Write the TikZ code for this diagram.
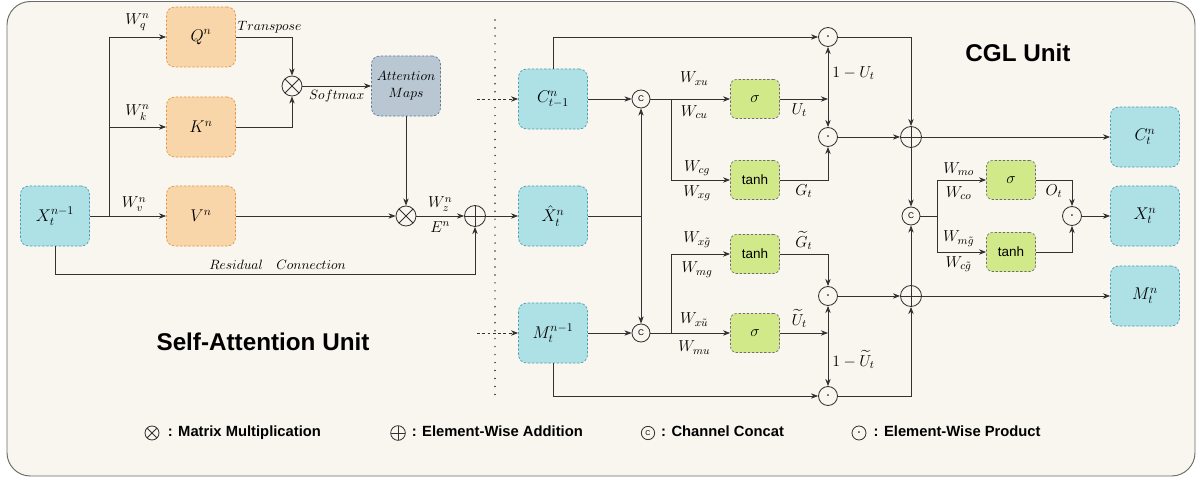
\RequirePackage{fix-cm}
\documentclass[tikz,border=0pt]{standalone}
\usepackage{fontspec}
\newfontfamily\lsans{Liberation Sans}
\usepackage{amsmath}
\usepackage{tikz}
\usepackage{xcolor}
\usetikzlibrary{positioning}
\usetikzlibrary{arrows.meta}

\definecolor{bgcream}{RGB}{248,246,239}
\definecolor{framegray}{RGB}{105,105,105}
\definecolor{linegray}{RGB}{50,50,50}
\definecolor{featfill}{RGB}{174,225,230}
\definecolor{featline}{RGB}{72,160,176}
\definecolor{qkvfill}{RGB}{249,214,170}
\definecolor{qkvline}{RGB}{228,150,62}
\definecolor{attfill}{RGB}{185,199,211}
\definecolor{attline}{RGB}{98,124,150}
\definecolor{gatefill}{RGB}{210,233,137}
\definecolor{gateline}{RGB}{110,110,110}

\begin{document}
\begin{tikzpicture}[
    x=0.03cm, y=-0.03cm,
    font=\fontsize{13.5}{16}\selectfont,
    base/.style={rectangle, rounded corners=7pt, dash pattern=on 2pt off 1.5pt, line width=0.6pt, align=center},
    feat/.style={base, draw=featline, fill=featfill, minimum width=2.07cm, minimum height=1.8cm, font=\fontsize{14.5}{17}\selectfont},
    qkv/.style={base, draw=qkvline, fill=qkvfill, minimum width=2.07cm, minimum height=1.8cm, font=\fontsize{14.5}{17}\selectfont},
    attn/.style={base, draw=attline, fill=attfill, minimum width=2.07cm, minimum height=1.8cm, font=\fontsize{11.5}{14.5}\selectfont},
    gate/.style={base, rounded corners=5pt, draw=gateline, fill=gatefill, minimum width=1.47cm, minimum height=1.17cm},
    op/.style={circle, draw=linegray, line width=0.7pt, inner sep=0pt, fill=bgcream},
    mul/.style={op, minimum size=0.6cm, path picture={\draw[linegray, line width=0.7pt] (path picture bounding box.north west) -- (path picture bounding box.south east) (path picture bounding box.north east) -- (path picture bounding box.south west);}},
    add/.style={op, minimum size=0.63cm, path picture={\draw[linegray, line width=0.7pt] (path picture bounding box.north) -- (path picture bounding box.south) (path picture bounding box.west) -- (path picture bounding box.east);}},
    cat/.style={op, minimum size=0.54cm, font=\lsans\fontsize{7}{7}\selectfont},
    dotp/.style={op, minimum size=0.57cm},
    arr/.style={-Stealth, line width=0.7pt, draw=linegray},
    darr/.style={arr, dash pattern=on 2.5pt off 2pt},
    sep/.style={line width=1.4pt, dash pattern=on 0pt off 6.8pt, line cap=round, draw=linegray},
    lbl/.style={font=\fontsize{11.5}{13}\selectfont},
    tanhtxt/.style={font=\lsans\fontsize{11.5}{13}\selectfont},
    title/.style={font=\lsans\bfseries\fontsize{20.7}{24}\selectfont},
    legend/.style={font=\lsans\bfseries\fontsize{12.6}{14}\selectfont, inner sep=1pt, text height=0.72em, text depth=0.2em}
]

\useasboundingbox (0,0) rectangle (1197,481);
\draw[framegray, fill=bgcream, line width=0.8pt, rounded corners=0.7cm] (7,1.5) rectangle (1195,476);

\node[feat] (xin) at (55,216) {$X_t^{n-1}$};
\node[qkv] (q) at (201,37) {$Q^n$};
\node[qkv] (k) at (201,127) {$K^n$};
\node[qkv] (v) at (201,216) {$V^n$};
\node[mul] (m1) at (292,86) {};
\node[attn] (att) at (406,86) {$Attention$\\$Maps$};
\node[mul] (m2) at (406,216) {};
\node[add] (a1) at (475,216) {};
\coordinate (split) at (109,216);
\coordinate (res) at (475,274);

\draw[arr] (xin.east) -- node[pos=0.58, above=0pt] {$W_v^n$} (v.west);
\draw[arr] (split) |- node[pos=0.75, above=2pt] {$W_q^n$} (q.west);
\draw[arr] (split) |- node[pos=0.75, above=2pt] {$W_k^n$} (k.west);
\draw[arr] (q.east) -| node[pos=0.3, above, lbl] {$Transpose$} (m1.north);
\draw[arr] (k.east) -| (m1.south);
\draw[arr] (m1) -- node[below, lbl] {$Softmax$} (att);
\draw[arr] (att) -- (m2);
\draw[arr] (v) -- (m2);
\draw[arr] (m2) -- node[above=0pt] {$W_z^n$} node[below=1pt] {$E^n$} (a1);
\draw[arr] (xin.south) |- node[pos=0.765, above, lbl] {$Residual\quad Connection$} (res) -- (a1.south);

\node[title] (satitle) at (263,342) {Self-Attention Unit};
\node[title] (cgltitle) at (1018,53) {CGL Unit};

\coordinate (septop) at (495,20);
\coordinate (sepbot) at (495,397);
\draw[sep] (septop) -- (sepbot);

\node[feat] (cprev) at (553,99) {$C_{t-1}^n$};
\node[feat] (xhat) at (553,216) {$\hat{X}_t^n$};
\node[feat] (mprev) at (553,333) {$M_t^{n-1}$};
\coordinate (cin) at (477,99);
\coordinate (min) at (477,333);
\draw[darr] (cin) -- (cprev);
\draw[darr] (min) -- (mprev);
\draw[arr] (a1) -- (xhat);

\node[cat] (c1) at (641,99) {C};
\node[cat] (c2) at (641,333) {C};
\draw[arr] (cprev) -- (c1);
\draw[arr] (mprev) -- (c2);
\draw[arr] (xhat.east) -| (c1.south);
\draw[arr] (xhat.east) -| (c2.north);

\node[gate] (sg1) at (755,99) {$\sigma$};
\node[gate, tanhtxt] (tg1) at (755,180) {tanh};
\node[gate, tanhtxt] (tg2) at (755,254) {tanh};
\node[gate] (sg2) at (755,333) {$\sigma$};
\coordinate (b1) at (671,99);
\coordinate (b2) at (671,333);
\draw[arr] (c1) -- node[pos=0.55, above=8pt] {$W_{xu}$} node[pos=0.55, below=2pt] {$W_{cu}$} (sg1);
\draw[arr] (b1) |- node[pos=0.72, above=0pt] {$W_{cg}$} node[pos=0.72, below=1pt] {$W_{xg}$} (tg1);
\draw[arr] (c2) -- node[pos=0.55, above=2pt] {$W_{x\tilde{u}}$} node[pos=0.55, below=3pt] {$W_{mu}$} (sg2);
\draw[arr] (b2) |- node[pos=0.72, above=2pt] {$W_{x\tilde{g}}$} node[pos=0.72, below=3pt] {$W_{mg}$} (tg2);

\node[dotp] (d1) at (828,37) {$\cdot$};
\node[dotp] (d2) at (828,137) {$\cdot$};
\node[dotp] (d4) at (828,296) {$\cdot$};
\node[dotp] (d5) at (828,396) {$\cdot$};
\coordinate (u1) at (828,99);
\coordinate (u2) at (828,333);
\draw[arr] (cprev.north) |- (d1.west);
\draw[arr] (sg1.east) -- node[pos=0.4, below] {$U_t$} (u1);
\draw[arr] (u1) -- node[right] {$1-U_t$} (d1.south);
\draw[arr] (u1) -- (d2.north);
\draw[arr] (tg1.east) -| node[pos=0.25, below] {$G_t$} (d2.south);
\draw[arr] (sg2.east) -- node[pos=0.4, above=1pt] {$\widetilde{U}_t$} (u2);
\draw[arr] (u2) -- (d4.south);
\draw[arr] (u2) -- node[right] {$1-\widetilde{U}_t$} (d5.north);
\draw[arr] (tg2.east) -| node[pos=0.25, above] {$\widetilde{G}_t$} (d4.north);
\draw[arr] (mprev.south) |- (d5.west);

\node[add] (a2) at (911,137) {};
\node[add] (a3) at (911,296) {};
\node[cat] (c3) at (911,216) {C};
\draw[arr] (d2) -- (a2);
\draw[arr] (d1.east) -| (a2.north);
\draw[arr] (d4) -- (a3);
\draw[arr] (d5.east) -| (a3.south);
\draw[arr] (a2) -- (c3);
\draw[arr] (a3) -- (c3);

\node[feat] (cout) at (1145,137) {$C_t^n$};
\node[feat] (xout) at (1145,216) {$X_t^n$};
\node[feat] (mout) at (1145,296) {$M_t^n$};
\draw[arr] (a2) -- (cout);
\draw[arr] (a3) -- (mout);

\node[gate] (sg3) at (1011,180) {$\sigma$};
\node[gate, tanhtxt] (tg3) at (1011,252) {tanh};
\node[dotp] (d3) at (1072,216) {$\cdot$};
\coordinate (b3) at (937,216);
\draw[linegray, line width=0.7pt] (c3) -- (b3);
\draw[arr] (b3) |- node[pos=0.72, above=0pt] {$W_{mo}$} node[pos=0.72, below=2pt] {$W_{co}$} (sg3);
\draw[arr] (b3) |- node[pos=0.72, above=1pt] {$W_{m\tilde{g}}$} node[pos=0.72, below=0pt] {$W_{c\tilde{g}}$} (tg3);
\draw[arr] (sg3.east) -| node[pos=0.25, below] {$O_t$} (d3.north);
\draw[arr] (tg3.east) -| (d3.south);
\draw[arr] (d3) -- (xout);

\node[mul, minimum size=0.42cm] (lgmul) at (152,433) {};
\node[legend, right=6pt of lgmul] (lgmultxt) {: Matrix Multiplication};
\node[add, minimum size=0.44cm] (lgadd) at (398,433) {};
\node[legend, right=4pt of lgadd] (lgaddtxt) {: Element-Wise Addition};
\node[cat, minimum size=0.4cm, font=\lsans\fontsize{6}{6}\selectfont] (lgcat) at (648,433) {C};
\node[legend, right=4pt of lgcat] (lgcattxt) {: Channel Concat};
\node[dotp, minimum size=0.42cm] (lgdot) at (859,433) {$\cdot$};
\node[legend, right=5pt of lgdot] (lgdottxt) {: Element-Wise Product};

\end{tikzpicture}
\end{document}
